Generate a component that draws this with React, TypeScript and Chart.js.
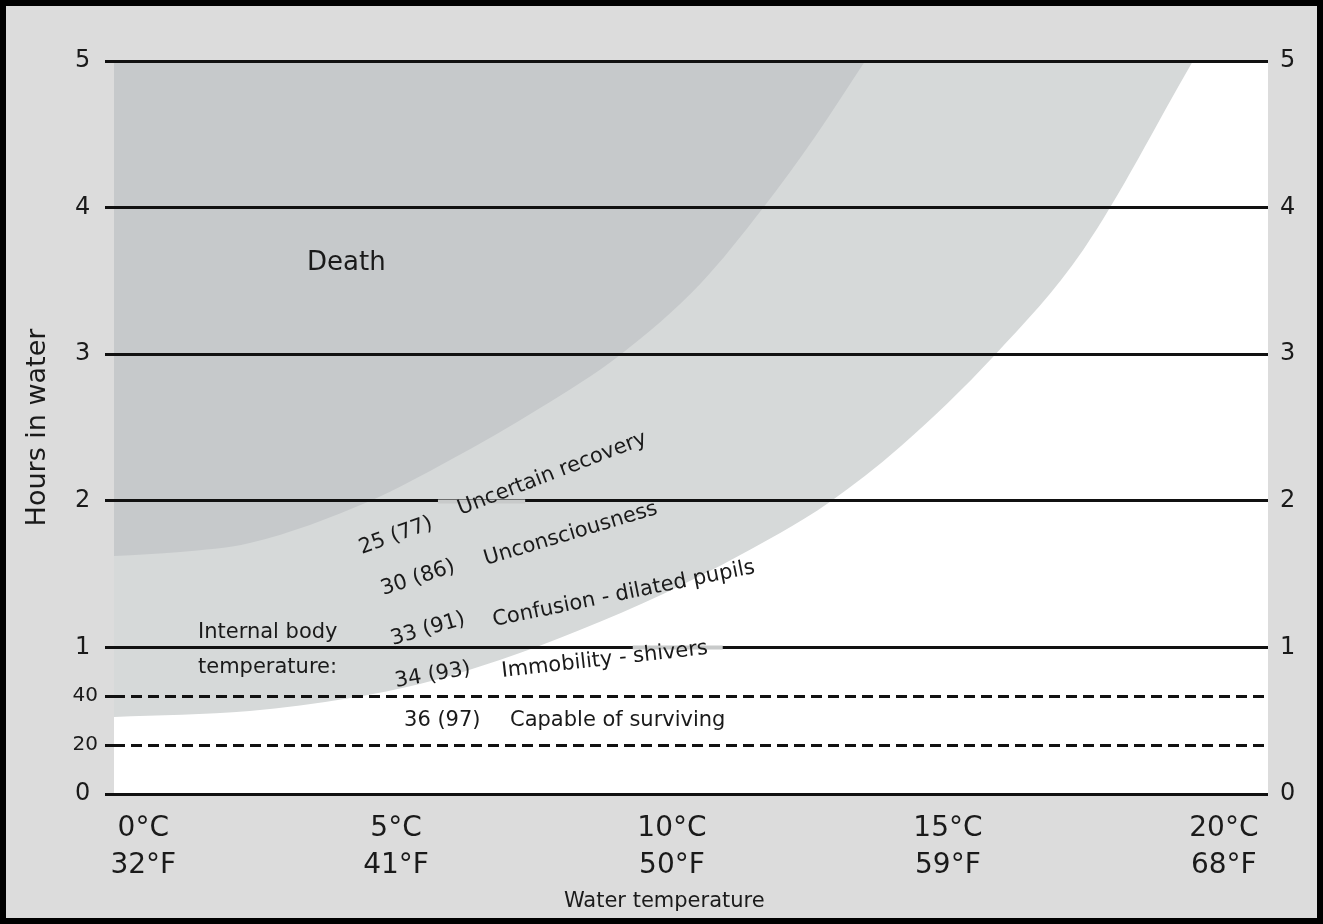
import React, { useEffect, useRef } from 'react';
import { Chart, registerables } from 'chart.js';

Chart.register(...registerables);

// ---------- data ----------
// Water temperature (°C) / hours in water along the "Death" boundary
const DEATH_TEMP = [-0.11, 1.09, 2.35, 4.53, 5.98, 7.61, 9.06, 10.51, 11.65, 12.59, 13.5];
const DEATH_HOURS = [1.623, 1.651, 1.712, 1.999, 2.278, 2.633, 2.995, 3.479, 3.997, 4.482, 5.0];

// Boundary of the "uncertain survival" zone
const ZONE_TEMP = [-0.11, 2.35, 4.17, 5.43, 6.88, 8.33, 9.84, 11.96, 12.86, 14.13, 15.85, 17.45, 19.44];
const ZONE_HOURS = [0.525, 0.566, 0.655, 0.75, 0.914, 1.119, 1.364, 1.78, 1.992, 2.367, 2.995, 3.711, 5.0];

const X_TICK_VALUES = [0.42, 5, 10, 15, 20];
const X_TICK_LABELS = [
  ['0°C', '32°F'],
  ['5°C', '41°F'],
  ['10°C', '50°F'],
  ['15°C', '59°F'],
  ['20°C', '68°F'],
];
const Y_TICK_VALUES = [0, 1 / 3, 2 / 3, 1, 2, 3, 4, 5];
const Y_TICK_LABELS = ['0 ', '20', '40', '1 ', '2 ', '3 ', '4 ', '5 '];
const Y2_TICK_VALUES = [0, 1, 2, 3, 4, 5];
const Y2_TICK_LABELS = ['0', '1', '2', '3', '4', '5'];

const STAGE_TEMPS = ['25 (77)', '30 (86)', '33 (91)', '34 (93)', '36 (97)'];
const STAGE_NAMES = [
  'Uncertain recovery',
  'Unconsciousness',
  'Confusion - dilated pupils',
  'Immobility - shivers',
  'Capable of surviving',
];

// ---------- layout (positions in data units, angles in degrees) ----------
const STAGE_TEMP_POS = [
  { x: 4.38, y: 1.637, a: 20 },
  { x: 4.77, y: 1.357, a: 18 },
  { x: 4.94, y: 1.016, a: 16 },
  { x: 5.0, y: 0.73, a: 9.7 },
  { x: 5.145, y: 0.466, a: 0 },
];
const STAGE_NAME_POS = [
  { x: 6.17, y: 1.903, a: 21 },
  { x: 6.63, y: 1.562, a: 16.6 },
  { x: 6.775, y: 1.146, a: 11.5 },
  { x: 6.926, y: 0.798, a: 6.4 },
  { x: 7.065, y: 0.466, a: 0 },
];
const LINE_GAPS = [
  { hour: 2, from: 5.76, to: 7.34 },
  { hour: 1, from: 9.29, to: 10.92 },
];

const FONT = '"DejaVu Sans", "Liberation Sans", sans-serif';
const INK = '#1a1a1a';

const backgroundPlugin = {
  id: 'bgPlugin',
  beforeDraw(chart: any) {
    const { ctx, width, height, chartArea: a } = chart;
    ctx.save();
    ctx.fillStyle = '#dcdcdc';
    ctx.fillRect(0, 0, width, height);
    ctx.fillStyle = '#ffffff';
    ctx.fillRect(a.left, a.top, a.right - a.left, a.bottom - a.top);
    ctx.lineWidth = 12;
    ctx.strokeStyle = '#000000';
    ctx.strokeRect(0, 0, width, height);
    ctx.restore();
  },
};

const annotationPlugin = {
  id: 'annPlugin',
  afterDraw(chart: any) {
    const { ctx } = chart;
    const xs = chart.scales.x;
    const ys = chart.scales.y;
    ctx.save();
    // faded segments of the hour lines behind the stage labels
    ctx.strokeStyle = '#c8caca';
    ctx.lineWidth = 4;
    for (const g of LINE_GAPS) {
      const py = Math.round(ys.getPixelForValue(g.hour)) + 0.5;
      ctx.beginPath();
      ctx.moveTo(xs.getPixelForValue(g.from), py);
      ctx.lineTo(xs.getPixelForValue(g.to), py);
      ctx.stroke();
    }
    const draw = (text: string, x: number, y: number, angle: number, font: string) => {
      ctx.save();
      ctx.translate(xs.getPixelForValue(x), ys.getPixelForValue(y));
      ctx.rotate((-angle * Math.PI) / 180);
      ctx.font = font;
      ctx.fillStyle = INK;
      ctx.textAlign = 'left';
      ctx.textBaseline = 'alphabetic';
      ctx.fillText(text, 0, 0);
      ctx.restore();
    };
    draw('Death', 3.387, 3.574, 0, `26px ${FONT}`);
    draw('Internal body', 1.412, 1.064, 0, `21px ${FONT}`);
    draw('temperature:', 1.412, 0.825, 0, `21px ${FONT}`);
    STAGE_TEMPS.forEach((t, i) => {
      const p = STAGE_TEMP_POS[i];
      draw(t, p.x, p.y, p.a, `21px ${FONT}`);
    });
    STAGE_NAMES.forEach((t, i) => {
      const p = STAGE_NAME_POS[i];
      draw(t, p.x, p.y, p.a, `21px ${FONT}`);
    });
    ctx.restore();
  },
};

const isMinuteTick = (v: number) => v > 0.01 && v < 0.99;

export default function App() {
  const canvasRef = useRef<HTMLCanvasElement | null>(null);

  useEffect(() => {
    document.body.style.margin = '0';
    const canvas = canvasRef.current;
    if (!canvas) return;
    const chart = new Chart(canvas, {
      type: 'line',
      data: {
        datasets: [
          {
            label: 'Death',
            data: DEATH_TEMP.map((t, i) => ({ x: t, y: DEATH_HOURS[i] })),
            fill: 'end',
            backgroundColor: '#c6c9cb',
            borderWidth: 0,
            pointRadius: 0,
            cubicInterpolationMode: 'monotone',
            order: 1,
          },
          {
            label: 'Uncertain survival',
            data: ZONE_TEMP.map((t, i) => ({ x: t, y: ZONE_HOURS[i] })),
            fill: 'end',
            backgroundColor: '#d6d9d9',
            borderWidth: 0,
            pointRadius: 0,
            cubicInterpolationMode: 'monotone',
            order: 2,
          },
        ],
      },
      options: {
        animation: false,
        responsive: false,
        layout: { padding: { top: 61, left: 0, right: 0, bottom: 0 } },
        plugins: {
          legend: { display: false },
          tooltip: { enabled: false },
        },
        scales: {
          x: {
            type: 'linear',
            min: -0.11,
            max: 20.8,
            afterBuildTicks: (s: any) => {
              s.ticks = X_TICK_VALUES.map((v) => ({ value: v }));
            },
            afterFit: (s: any) => {
              s.height = 130;
            },
            grid: { display: false, drawTicks: false },
            border: { display: false },
            ticks: {
              autoSkip: false,
              maxRotation: 0,
              minRotation: 0,
              padding: 16,
              color: INK,
              font: { family: FONT, size: 28, lineHeight: 1.32 },
              callback: (_v: any, i: number) => X_TICK_LABELS[i],
            },
            title: {
              display: true,
              text: 'Water temperature        ',
              color: INK,
              font: { family: FONT, size: 21 },
              padding: { top: 0, bottom: 10 },
            },
          },
          y: {
            type: 'linear',
            position: 'left',
            min: 0,
            max: 5,
            afterBuildTicks: (s: any) => {
              s.ticks = Y_TICK_VALUES.map((v) => ({ value: v }));
            },
            afterFit: (s: any) => {
              s.width = 114;
            },
            grid: {
              z: 1,
              color: '#111111',
              lineWidth: 3,
              tickLength: 9,
              tickWidth: 3,
              tickColor: '#111111',
              tickBorderDash: (c: any) => (c.tick && isMinuteTick(c.tick.value) ? [11, 6] : []),
            },
            border: {
              display: false,
              dash: (c: any) => (c.tick && isMinuteTick(c.tick.value) ? [11, 6] : []),
            },
            ticks: {
              autoSkip: false,
              padding: 7,
              color: INK,
              font: (c: any) => ({
                family: FONT,
                size: c.tick && isMinuteTick(c.tick.value) ? 20 : 24,
              }),
              callback: (_v: any, i: number) => Y_TICK_LABELS[i],
            },
            title: {
              display: true,
              text: 'Hours in water',
              color: INK,
              font: { family: FONT, size: 27 },
              padding: { top: 22, bottom: 0 },
            },
          },
          y2: {
            type: 'linear',
            position: 'right',
            min: 0,
            max: 5,
            afterBuildTicks: (s: any) => {
              s.ticks = Y2_TICK_VALUES.map((v) => ({ value: v }));
            },
            afterFit: (s: any) => {
              s.width = 55;
            },
            grid: { display: false, drawTicks: false },
            border: { display: false },
            ticks: {
              autoSkip: false,
              padding: 12,
              color: INK,
              font: { family: FONT, size: 24 },
              callback: (_v: any, i: number) => Y2_TICK_LABELS[i],
            },
          },
        },
      } as any,
      plugins: [backgroundPlugin, annotationPlugin],
    });
    return () => chart.destroy();
  }, []);

  return (
    <div style={{ width: 1323, height: 924 }}>
      <canvas ref={canvasRef} width={1323} height={924} style={{ display: 'block' }} />
    </div>
  );
}
